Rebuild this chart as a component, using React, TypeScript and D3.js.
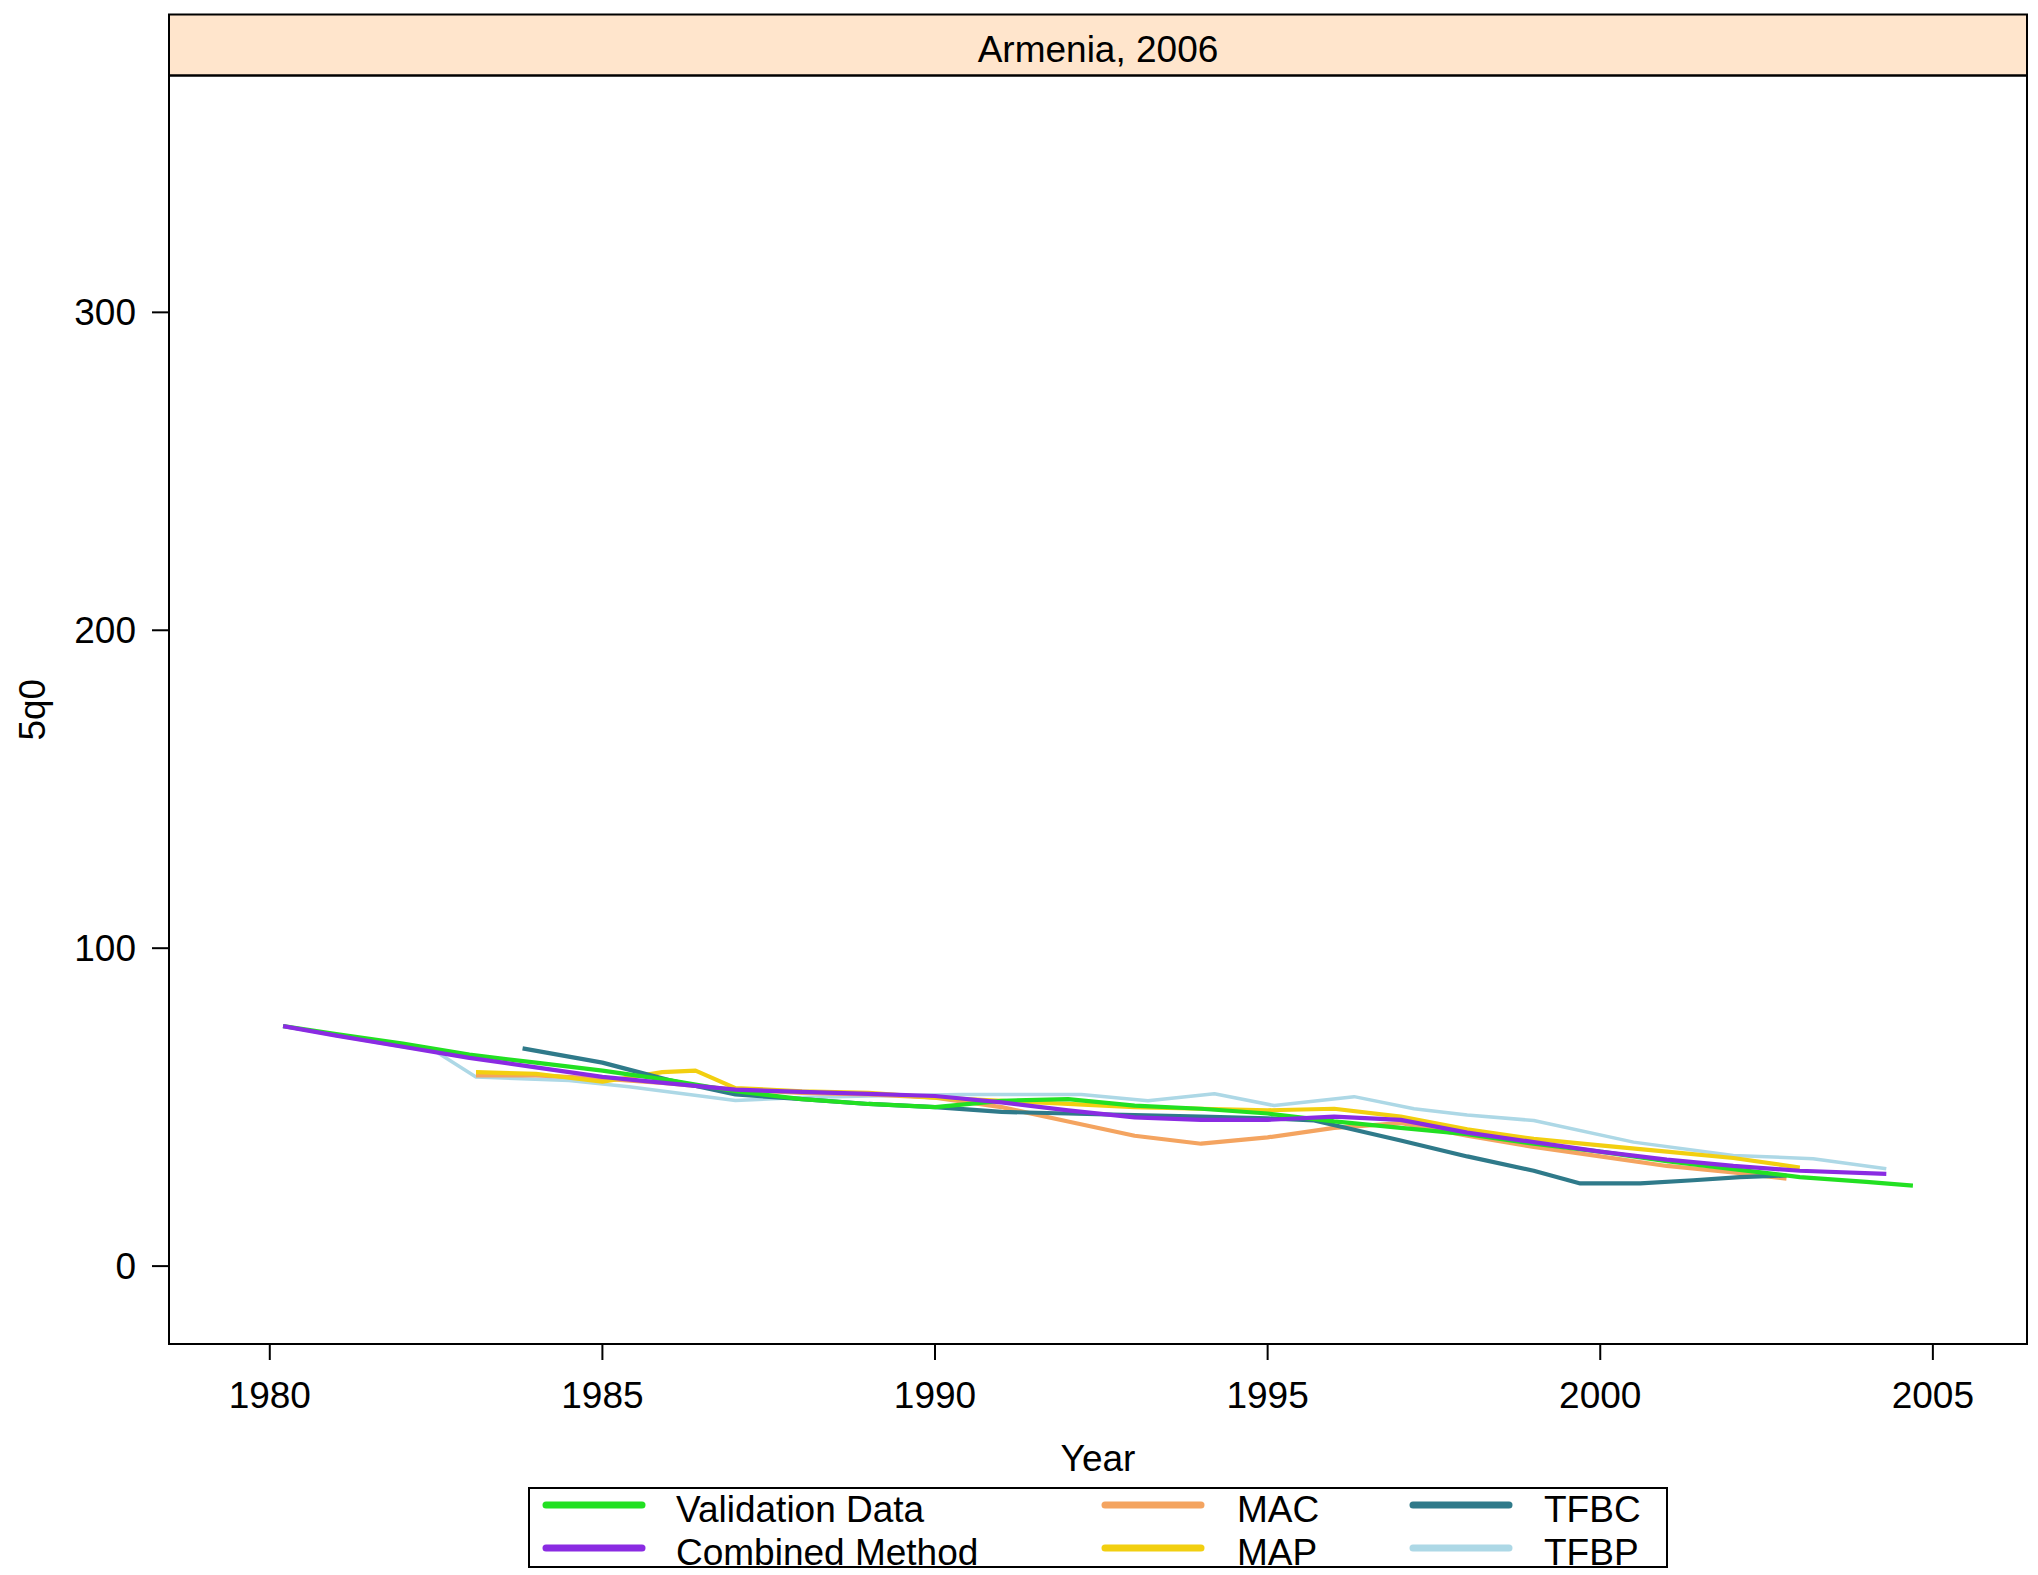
import React from 'react';
import * as d3 from 'd3';

// Series: years and 5q0 values
const validationYears = [1980.2, 1981, 1982, 1983, 1984, 1985, 1986, 1987, 1988, 1989, 1990, 1991, 1992, 1993, 1994, 1995, 1996, 1997, 1998, 1999, 2000, 2001, 2002, 2003, 2004, 2004.7];
const validationValues = [75.5, 73, 70, 66.5, 64, 61.5, 58.5, 55, 52.5, 51, 50, 52, 52.5, 50.5, 49.5, 48, 45.5, 43.5, 41.5, 38.5, 36, 33, 30.5, 28, 26.5, 25.3];

const combinedYears = [1980.2, 1981, 1982, 1983, 1984, 1985, 1986, 1987, 1988, 1989, 1990, 1991, 1992, 1993, 1994, 1995, 1996, 1997, 1998, 1999, 2000, 2001, 2002, 2003, 2004.3];
const combinedValues = [75.5, 72.5, 69, 65.5, 62.5, 59.5, 57.5, 55.5, 54.8, 54.2, 53.5, 51.5, 49, 46.8, 46, 46, 47, 46, 42, 39, 36, 33.5, 31.5, 30, 29];

const macYears = [1983.1, 1984, 1985, 1986, 1987, 1988, 1989, 1990, 1991, 1992, 1993, 1994, 1995, 1996, 1997, 1998, 1999, 2000, 2001, 2002, 2002.8];
const macValues = [60, 60, 59, 57.5, 55.5, 54.5, 54, 53, 50, 45.5, 41, 38.5, 40.5, 43.5, 45, 41, 37.5, 34.5, 31.5, 29.5, 27.5];

const mapYears = [1983.1, 1984, 1985, 1985.9, 1986.4, 1987, 1988, 1989, 1990, 1991, 1992, 1993, 1994, 1995, 1996, 1997, 1998, 1999, 2000, 2001, 2002, 2003];
const mapValues = [61, 60.5, 58, 61, 61.5, 56, 55, 54.5, 53, 52, 51, 50, 49.5, 49, 49.5, 47, 43, 40, 38, 36, 34, 31];

const tfbcYears = [1983.8, 1985, 1986, 1987, 1988, 1989, 1990, 1991, 1992, 1993, 1994, 1995, 1995.7, 1997, 1998, 1999, 1999.7, 2000.6, 2001.4, 2002.1, 2002.8];
const tfbcValues = [68.5, 64, 58.5, 54, 52.5, 51, 50, 48.5, 48, 47.5, 47, 46.5, 45.8, 39.5, 34.5, 30, 26, 26, 27, 28, 28.5];

const tfbpYears = [1980.2, 1981, 1982, 1982.5, 1983.1, 1984.5, 1985.4, 1987, 1988, 1989, 1990.4, 1992.2, 1993.2, 1994.2, 1995.1, 1996.3, 1997.2, 1998, 1999, 2000.5, 2002, 2003.2, 2004.3];
const tfbpValues = [75.5, 72.5, 69, 67.4, 59.5, 58.4, 56.4, 52.1, 53, 53.5, 54, 54, 52, 54.2, 50.5, 53.3, 49.5, 47.5, 45.8, 39, 34.8, 33.8, 30.6];

const seriesNames = ['Validation Data', 'Combined Method', 'MAC', 'MAP', 'TFBC', 'TFBP'];
const seriesColors = ['#22e022', '#8a2be2', '#f4a460', '#f2cf10', '#2f7a8a', '#add8e6'];
const yTicks = [0, 100, 200, 300];
const xTicks = [1980, 1985, 1990, 1995, 2000, 2005];
const yLimits = [0, 350];

const FONT = "'Liberation Sans', Arial, sans-serif";

const App: React.FC = () => {
  const W = 2038;
  const H = 1575;
  const panel = { left: 169, right: 2027, top: 75.5, bottom: 1344 };
  const stripTop = 14.5;

  const allSeries = [
    { years: validationYears, values: validationValues },
    { years: combinedYears, values: combinedValues },
    { years: macYears, values: macValues },
    { years: mapYears, values: mapValues },
    { years: tfbcYears, values: tfbcValues },
    { years: tfbpYears, values: tfbpValues },
  ];

  // lattice-style 7% extension of limits
  const [xMin, xMax] = d3.extent(allSeries.flatMap((s) => s.years)) as [number, number];
  const xPad = (xMax - xMin) * 0.07;
  const yPad = (yLimits[1] - yLimits[0]) * 0.07;

  const x = d3.scaleLinear().domain([xMin - xPad, xMax + xPad]).range([panel.left, panel.right]);
  const y = d3.scaleLinear().domain([yLimits[0] - yPad, yLimits[1] + yPad]).range([panel.bottom, panel.top]);

  const line = d3
    .line<[number, number]>()
    .x((d) => x(d[0]))
    .y((d) => y(d[1]));

  // draw order: light ones underneath
  const drawOrder = [5, 2, 3, 4, 0, 1];

  const legendBox = { left: 529, right: 1667, top: 1488, bottom: 1567 };
  const legendCols = [
    { lineX: 546, textX: 676 },
    { lineX: 1105, textX: 1237 },
    { lineX: 1413, textX: 1544 },
  ];
  const legendRows = [{ lineY: 1505, textY: 1522 }, { lineY: 1548, textY: 1565 }];

  return (
    <div style={{ position: 'absolute', left: 0, top: 0 }}>
      <svg width={W} height={H} style={{ display: 'block', background: '#fff' }}>
        <defs>
          <clipPath id="panelClip">
            <rect x={panel.left} y={panel.top} width={panel.right - panel.left} height={panel.bottom - panel.top} />
          </clipPath>
          <clipPath id="legendClip">
            <rect x={legendBox.left} y={legendBox.top} width={legendBox.right - legendBox.left} height={legendBox.bottom - legendBox.top} />
          </clipPath>
        </defs>

        {/* strip */}
        <rect
          x={panel.left}
          y={stripTop}
          width={panel.right - panel.left}
          height={panel.top - stripTop}
          fill="#ffe5cc"
          stroke="#000"
          strokeWidth={2}
        />
        <text x={(panel.left + panel.right) / 2} y={62} textAnchor="middle" fontFamily={FONT} fontSize={37} fill="#000">
          Armenia, 2006
        </text>

        {/* series */}
        <g clipPath="url(#panelClip)">
          {drawOrder.map((i) => {
            const s = allSeries[i];
            const pts = s.years.map((yr, k) => [yr, s.values[k]] as [number, number]);
            return (
              <path
                key={seriesNames[i]}
                d={line(pts) || ''}
                fill="none"
                stroke={seriesColors[i]}
                strokeWidth={i === 5 ? 3.5 : 4.2}
                strokeLinejoin="round"
              />
            );
          })}
        </g>

        {/* panel border */}
        <rect
          x={panel.left}
          y={panel.top}
          width={panel.right - panel.left}
          height={panel.bottom - panel.top}
          fill="none"
          stroke="#000"
          strokeWidth={2}
        />

        {/* y axis */}
        {yTicks.map((t) => (
          <g key={`y${t}`}>
            <line x1={panel.left - 17} x2={panel.left} y1={y(t)} y2={y(t)} stroke="#000" strokeWidth={2} />
            <text x={136} y={y(t) + 13} textAnchor="end" fontFamily={FONT} fontSize={37} fill="#000">
              {t}
            </text>
          </g>
        ))}

        {/* x axis */}
        {xTicks.map((t) => (
          <g key={`x${t}`}>
            <line x1={x(t)} x2={x(t)} y1={panel.bottom} y2={panel.bottom + 16} stroke="#000" strokeWidth={2} />
            <text x={x(t)} y={1408} textAnchor="middle" fontFamily={FONT} fontSize={37} fill="#000">
              {t}
            </text>
          </g>
        ))}

        {/* axis labels */}
        <text x={(panel.left + panel.right) / 2} y={1471} textAnchor="middle" fontFamily={FONT} fontSize={37} fill="#000">
          Year
        </text>
        <text
          transform={`translate(45, ${(panel.top + panel.bottom) / 2}) rotate(-90)`}
          textAnchor="middle"
          fontFamily={FONT}
          fontSize={37}
          fill="#000"
        >
          5q0
        </text>

        {/* legend */}
        <g clipPath="url(#legendClip)">
          {seriesNames.map((name, i) => {
            const col = legendCols[Math.floor(i / 2)];
            const row = legendRows[i % 2];
            return (
              <g key={name}>
                <line
                  x1={col.lineX}
                  x2={col.lineX + 96}
                  y1={row.lineY}
                  y2={row.lineY}
                  stroke={seriesColors[i]}
                  strokeWidth={7}
                  strokeLinecap="round"
                />
                <text x={col.textX} y={row.textY} fontFamily={FONT} fontSize={37} fill="#000">
                  {name}
                </text>
              </g>
            );
          })}
        </g>
        <rect
          x={legendBox.left}
          y={legendBox.top}
          width={legendBox.right - legendBox.left}
          height={legendBox.bottom - legendBox.top}
          fill="none"
          stroke="#000"
          strokeWidth={2}
        />
      </svg>
    </div>
  );
};

export default App;
